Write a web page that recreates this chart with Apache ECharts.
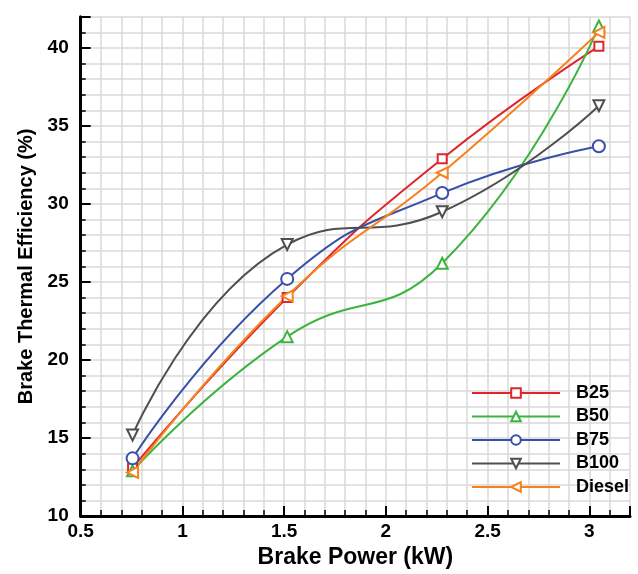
<!DOCTYPE html>
<html>
<head>
<meta charset="utf-8">
<script src="https://cdn.jsdelivr.net/npm/echarts@6/dist/echarts.min.js"></script>
<style>
  html, body { margin: 0; padding: 0; background: #fff; }
  #chart { width: 638px; height: 574px; }
</style>
</head>
<body>
<div id="chart"></div>
<script>
const brakePower = [0.755, 1.515, 2.277, 3.047]
const b25 = [13.1, 24.0, 32.9, 40.1]
const b50 = [12.9, 21.5, 26.2, 41.4]
const b75 = [13.7, 25.2, 30.7, 33.7]
const b100 = [15.2, 27.4, 29.5, 36.3]
const diesel = [12.8, 24.1, 32.0, 41.0]

const font = '"Liberation Sans", Arial, sans-serif'
const gridColor = '#d9d9d9'

const pairs = (ys) => brakePower.map((x, i) => [x, ys[i]])

const makeSeries = (name, ys, color, symbol, size, rotate) => ({
  name: name,
  type: 'line',
  data: pairs(ys),
  smooth: 0.5,
  symbol: symbol,
  symbolSize: size,
  symbolRotate: rotate,
  showAllSymbol: true,
  lineStyle: { color: color, width: 2 },
  itemStyle: { color: '#fff', borderColor: color, borderWidth: 2 }
})

const chart = echarts.init(document.getElementById('chart'), null, { renderer: 'canvas' })

const option = {
  animation: false,
  grid: { left: 80.7, right: 8, top: 16.7, bottom: 52.3, containLabel: false },
  legend: {
    orient: 'vertical',
    left: 471,
    top: 384,
    padding: 0,
    itemWidth: 88,
    itemHeight: 12,
    itemGap: 5.5,
    textStyle: { fontFamily: font, fontWeight: 'bold', fontSize: 18, color: '#000', padding: [0, 0, 0, 11] }
  },
  xAxis: {
    type: 'value',
    min: 0.5,
    max: 3.2,
    interval: 0.5,
    name: 'Brake Power (kW)',
    nameLocation: 'middle',
    nameGap: 29,
    nameTextStyle: { fontFamily: font, fontWeight: 'bold', fontSize: 23, color: '#000' },
    axisLine: { show: true, lineStyle: { color: '#000', width: 3 } },
    axisTick: { inside: true, length: 10, lineStyle: { color: '#000', width: 2 } },
    minorTick: { show: true, splitNumber: 5, length: 6, lineStyle: { color: '#000', width: 1.5 } },
    axisLabel: {
      fontFamily: font, fontWeight: 'bold', fontSize: 19, color: '#000', margin: 6,
      showMaxLabel: false
    },
    splitLine: { show: true, lineStyle: { color: gridColor, width: 1.5 } },
    minorSplitLine: { show: true, lineStyle: { color: gridColor, width: 1.5 } }
  },
  yAxis: {
    type: 'value',
    min: 10,
    max: 42,
    interval: 5,
    name: 'Brake Thermal Efficiency (%)',
    nameLocation: 'middle',
    nameGap: 42,
    nameTextStyle: { fontFamily: font, fontWeight: 'bold', fontSize: 20, color: '#000' },
    axisLine: { show: true, lineStyle: { color: '#000', width: 3 } },
    axisTick: { inside: true, length: 10, lineStyle: { color: '#000', width: 2 } },
    minorTick: { show: true, splitNumber: 5, length: 5, lineStyle: { color: '#000', width: 1.5 } },
    axisLabel: {
      fontFamily: font, fontWeight: 'bold', fontSize: 19, color: '#000', margin: 12,
      showMaxLabel: false
    },
    splitLine: { show: true, lineStyle: { color: gridColor, width: 1.5 } },
    minorSplitLine: { show: true, lineStyle: { color: gridColor, width: 1.5 } }
  },
  series: [
    makeSeries('B25', b25, '#e0262d', 'rect', 9, 0),
    makeSeries('B50', b50, '#3db43f', 'triangle', 11, 0),
    makeSeries('B75', b75, '#3a4fa6', 'circle', 12, 0),
    makeSeries('B100', b100, '#4f4f4f', 'triangle', 11, 180),
    makeSeries('Diesel', diesel, '#f5821f', 'triangle', 11, 90)
  ]
}

chart.setOption(option)
</script>
</body>
</html>
